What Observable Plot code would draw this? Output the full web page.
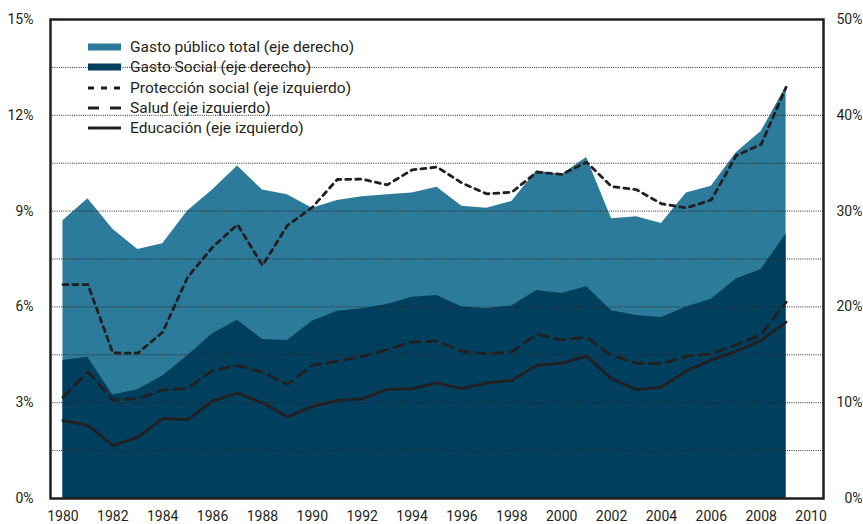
<!DOCTYPE html>
<html>
<head>
<meta charset="utf-8">
<script src="https://cdn.jsdelivr.net/npm/d3@7"></script>
<script src="https://cdn.jsdelivr.net/npm/@observablehq/plot@0.6"></script>
<style>
  html, body { margin: 0; padding: 0; background: #fff; }
  #wrap { position: relative; width: 863px; height: 524px; font-family: Roboto, "Noto Sans", sans-serif; }
  #legend { position: absolute; left: 88px; top: 37px; font-size: 15.5px; color: #231f20; }
  .row { display: flex; align-items: center; height: 20.3px; line-height: 20.3px; white-space: nowrap; }
  .row svg { width: 33px; height: 10px; margin-right: 9px; flex: none; }
</style>
</head>
<body>
<div id="wrap"></div>
<script>
// ---- data ----
const years = d3.range(1980, 2010);
// right axis (0-50%)
const gastoTotal = [29.0, 31.3, 28.1, 26.0, 26.6, 30.0, 32.2, 34.7, 32.2, 31.7, 30.3, 31.1, 31.5, 31.7, 31.9, 32.5, 30.5, 30.3, 31.0, 34.2, 33.8, 35.6, 29.2, 29.4, 28.7, 31.9, 32.6, 36.1, 38.3, 43.0];
const gastoSocial = [14.4, 14.75, 10.8, 11.35, 12.8, 14.9, 17.2, 18.6, 16.6, 16.5, 18.5, 19.55, 19.8, 20.25, 21.0, 21.2, 20.0, 19.8, 20.1, 21.7, 21.4, 22.1, 19.6, 19.1, 18.9, 20.0, 20.8, 22.9, 23.9, 27.6];
// left axis (0-15%)
const proteccion = [6.70, 6.70, 4.56, 4.55, 5.21, 6.93, 7.87, 8.58, 7.30, 8.55, 9.12, 9.99, 10.0, 9.82, 10.29, 10.38, 9.88, 9.54, 9.59, 10.22, 10.15, 10.53, 9.77, 9.67, 9.23, 9.10, 9.35, 10.74, 11.09, 12.88];
const salud = [3.17, 3.96, 3.09, 3.12, 3.40, 3.45, 4.01, 4.17, 3.96, 3.57, 4.17, 4.30, 4.45, 4.66, 4.90, 4.93, 4.61, 4.53, 4.60, 5.14, 4.97, 5.05, 4.48, 4.24, 4.22, 4.46, 4.53, 4.81, 5.13, 6.15];
const educacion = [2.44, 2.29, 1.66, 1.92, 2.50, 2.47, 3.05, 3.30, 3.00, 2.55, 2.88, 3.07, 3.12, 3.42, 3.44, 3.62, 3.44, 3.62, 3.70, 4.17, 4.24, 4.46, 3.75, 3.41, 3.49, 3.99, 4.34, 4.61, 4.95, 5.52];
const xTicks = d3.range(1980, 2011, 2);
const leftTicks = [0, 3, 6, 9, 12, 15];
const rightTicks = [0, 10, 20, 30, 40, 50];
const gridLeft = [1.5, 3, 4.5, 6, 7.5, 9, 10.5, 12, 13.5];
const legendLabels = ["Gasto público total (eje derecho)", "Gasto Social (eje derecho)", "Protección social (eje izquierdo)", "Salud (eje izquierdo)", "Educación (eje izquierdo)"];

// ---- styles ----
const cTotal = "#2d7b9a";
const cSocial = "#003f5e";
const ink = "#231f20";
const rightScale = 15 / 50;

const data = years.map((y, i) => ({
  year: y,
  total: gastoTotal[i] * rightScale,
  social: gastoSocial[i] * rightScale,
  prot: proteccion[i],
  salud: salud[i],
  edu: educacion[i]
}));

const chart = Plot.plot({
  width: 863,
  height: 524,
  marginTop: 19,
  marginBottom: 26,
  marginLeft: 50,
  marginRight: 40,
  x: { domain: [1979.5, 2010.5], label: null },
  y: { domain: [0, 15], label: null },
  style: { fontFamily: "Roboto, 'Noto Sans', sans-serif", fontSize: "14px", color: ink, background: "transparent" },
  marks: [
    Plot.areaY(data, { x: "year", y: "total", fill: cTotal }),
    Plot.areaY(data, { x: "year", y: "social", fill: cSocial }),
    Plot.ruleY(gridLeft, { stroke: "#2a2a2a", strokeWidth: 1, strokeDasharray: "1,1.2" }),
    Plot.lineY(data, { x: "year", y: "prot", stroke: ink, strokeWidth: 2.8, strokeDasharray: "5,5" }),
    Plot.lineY(data, { x: "year", y: "salud", stroke: ink, strokeWidth: 2.8, strokeDasharray: "10,7" }),
    Plot.lineY(data, { x: "year", y: "edu", stroke: ink, strokeWidth: 2.8 }),
    Plot.axisX({ ticks: xTicks, tickFormat: d => String(d), tickSize: 0, tickPadding: 13, label: null }),
    Plot.axisY({ anchor: "left", ticks: leftTicks, tickFormat: d => d + "%", tickSize: 0, tickPadding: 17, label: null }),
    Plot.axisY({ anchor: "right", ticks: rightTicks.map(v => v * rightScale), tickFormat: (d, i) => rightTicks[i] + "%", tickSize: 0, tickPadding: 39, textAnchor: "end", label: null }),
    Plot.frame({ stroke: ink, strokeWidth: 2.5 })
  ]
});

const wrap = document.getElementById("wrap");
wrap.appendChild(chart);

// legend (HTML overlay)
const swatches = [
  `<svg viewBox="0 0 33 10"><rect x="0" y="1.5" width="33" height="7" fill="${cTotal}"/></svg>`,
  `<svg viewBox="0 0 33 10"><rect x="0" y="1.5" width="33" height="7" fill="${cSocial}"/></svg>`,
  `<svg viewBox="0 0 33 10"><line x1="0" x2="33" y1="5" y2="5" stroke="${ink}" stroke-width="2.8" stroke-dasharray="6,7"/></svg>`,
  `<svg viewBox="0 0 33 10"><line x1="0" x2="33" y1="5" y2="5" stroke="${ink}" stroke-width="2.8" stroke-dasharray="11,11"/></svg>`,
  `<svg viewBox="0 0 33 10"><line x1="0" x2="33" y1="5" y2="5" stroke="${ink}" stroke-width="2.8"/></svg>`
];
const legend = document.createElement("div");
legend.id = "legend";
legend.innerHTML = legendLabels.map((t, i) => `<div class="row">${swatches[i]}<span>${t}</span></div>`).join("");
wrap.appendChild(legend);
</script>
</body>
</html>
